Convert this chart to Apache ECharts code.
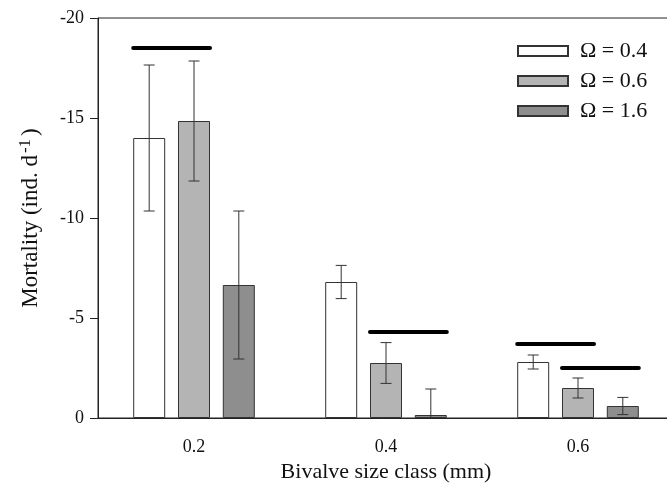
<!DOCTYPE html>
<html><head><meta charset="utf-8">
<script src="https://cdn.jsdelivr.net/npm/echarts@6/dist/echarts.min.js"></script>
<style>html,body{margin:0;padding:0;background:#fff;overflow:hidden}#c{width:667px;height:484px}</style>
</head><body><div id="c"></div>
<script>
var categories = ['0.2', '0.4', '0.6'];
var seriesNames = ['\u03A9 = 0.4', '\u03A9 = 0.6', '\u03A9 = 1.6'];
var omega04 = [-14.0, -6.8, -2.8];
var omega06 = [-14.85, -2.75, -1.5];
var omega16 = [-6.65, -0.15, -0.6];
var err04 = [3.65, 0.83, 0.35];
var err06 = [3.0, 1.02, 0.5];
var err16 = [3.7, 1.3, 0.43];
// significance lines: category index, first bar, last bar, level
var sigCat = [0, 1, 2, 2];
var sigFrom = [0, 1, 0, 1];
var sigTo = [1, 2, 1, 2];
var sigLevel = [-18.5, -4.3, -3.7, -2.5];
var yTicks = [-20, -15, -10, -5, 0];

var FONT = "'Liberation Serif','Times New Roman',serif";
var colors = ['#ffffff', '#b4b4b4', '#8e8e8e'];
var BAR_FRAC = 0.1667, GAP_FRAC = 0.4;

function barCenterOffset(bandW, idx) {
  var bw = bandW * BAR_FRAC;
  return (idx - 1) * (bw + bw * GAP_FRAC);
}

var values = [omega04, omega06, omega16];
var errs = [err04, err06, err16];

var series = [];
for (var s = 0; s < 3; s++) {
  series.push({
    name: seriesNames[s], type: 'bar', data: values[s],
    barWidth: (BAR_FRAC * 100) + '%', barGap: (GAP_FRAC * 100) + '%',
    itemStyle: { color: colors[s], borderColor: '#333', borderWidth: 1 },
    emphasis: { disabled: true }, z: 2
  });
}
var errData = [];
for (var s2 = 0; s2 < 3; s2++) {
  for (var c = 0; c < categories.length; c++) {
    errData.push([c, values[s2][c], errs[s2][c], s2]);
  }
}
series.push({
  type: 'custom', name: 'err', data: errData, clip: true, z: 5,
  encode: { x: 0, y: 1 },
  renderItem: function (params, api) {
    var c = api.value(0), v = api.value(1), e = api.value(2), idx = api.value(3);
    var bandW = api.size([1, 0])[0];
    var base = api.coord([c, v]);
    var x = base[0] + barCenterOffset(bandW, idx);
    var yHi = api.coord([c, v - e])[1];
    var yLo = api.coord([c, v + e])[1];
    var cap = 5.5;
    var st = { stroke: '#333', lineWidth: 1 };
    return { type: 'group', children: [
      { type: 'line', shape: { x1: x, y1: yHi, x2: x, y2: yLo }, style: st },
      { type: 'line', shape: { x1: x - cap, y1: yHi, x2: x + cap, y2: yHi }, style: st },
      { type: 'line', shape: { x1: x - cap, y1: yLo, x2: x + cap, y2: yLo }, style: st }
    ]};
  }
});
var sigData = [];
for (var k = 0; k < sigCat.length; k++) sigData.push([sigCat[k], sigLevel[k], sigFrom[k], sigTo[k]]);
series.push({
  type: 'custom', name: 'sig', data: sigData, z: 6,
  encode: { x: 0, y: 1 },
  renderItem: function (params, api) {
    var c = api.value(0), lv = api.value(1), a = api.value(2), b = api.value(3);
    var bandW = api.size([1, 0])[0];
    var bw = bandW * BAR_FRAC;
    var p = api.coord([c, lv]);
    var x1 = p[0] + barCenterOffset(bandW, a) - bw / 2;
    var x2 = p[0] + barCenterOffset(bandW, b) + bw / 2;
    return { type: 'line', shape: { x1: x1, y1: p[1], x2: x2, y2: p[1] },
      style: { stroke: '#000', lineWidth: 4, lineCap: 'round' } };
  }
});

var chart = echarts.init(document.getElementById('c'));
chart.setOption({
  animation: false,
  backgroundColor: '#fff',
  textStyle: { fontFamily: FONT },
  grid: { left: 98, top: 18, right: -7, bottom: 66, outerBoundsMode: 'none', containLabel: false,
    show: true, borderColor: '#222', borderWidth: 1 },
  legend: {
    data: seriesNames, orient: 'vertical', left: 517, top: 40, padding: 0,
    icon: 'rect', itemWidth: 50, itemHeight: 10, itemGap: 8,
    textStyle: { fontFamily: FONT, fontSize: 22, color: '#111', padding: [0, 0, 0, 7] },
    selectedMode: false
  },
  xAxis: {
    type: 'category', data: categories,
    axisLine: { lineStyle: { color: '#222', width: 1 } },
    axisTick: { alignWithLabel: true, length: 8, lineStyle: { color: '#222' } },
    axisLabel: { fontFamily: FONT, fontSize: 18, color: '#111', margin: 20 },
    name: 'Bivalve size class (mm)', nameLocation: 'middle', nameGap: 36,
    nameTextStyle: { fontFamily: FONT, fontSize: 22, color: '#111' }
  },
  yAxis: {
    type: 'value', inverse: true, min: -20, max: 0, interval: 5,
    splitLine: { show: false },
    axisLine: { show: true, lineStyle: { color: '#222', width: 1 } },
    axisTick: { show: true, length: 8, lineStyle: { color: '#222' } },
    axisLabel: { fontFamily: FONT, fontSize: 18, color: '#111', margin: 14,
      formatter: function (v) { return yTicks.indexOf(v) >= 0 ? String(v) : ''; } },
    name: 'Mortality (ind. d{sup|-1})', nameLocation: 'middle', nameGap: 54, nameRotate: 90,
    nameTextStyle: { fontFamily: FONT, fontSize: 23, color: '#111',
      rich: { sup: { fontFamily: FONT, fontSize: 17, color: '#111', verticalAlign: 'top', padding: [0, 3, 10, 2] } } }
  },
  series: series
});
</script></body></html>
